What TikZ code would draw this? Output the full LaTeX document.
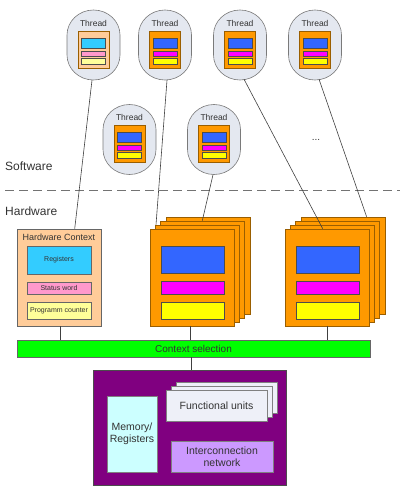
\documentclass[tikz,border=0pt]{standalone}
\usepackage{fontspec}
\setmainfont{Liberation Sans}
\usetikzlibrary{calc}
\definecolor{thfill}{HTML}{E4E8F0}
\definecolor{thdraw}{HTML}{7A7A7A}
\definecolor{peach}{HTML}{FFCC99}
\definecolor{orng}{HTML}{FF9900}
\definecolor{orngdraw}{HTML}{9A5E00}
\definecolor{cyanr}{HTML}{33CCFF}
\definecolor{pinkr}{HTML}{FF99CC}
\definecolor{lyel}{HTML}{FFFF99}
\definecolor{blu}{HTML}{3366FF}
\definecolor{mag}{HTML}{FF00FF}
\definecolor{yel}{HTML}{FFFF00}
\definecolor{grn}{HTML}{00FF00}
\definecolor{purp}{HTML}{800080}
\definecolor{lcyan}{HTML}{CCFFFF}
\definecolor{lav}{HTML}{CC99FF}
\definecolor{fug}{HTML}{EEF0F8}
\definecolor{txt}{HTML}{333333}
\newcommand\ThreadBubble[7]{%
  \node[thread] (#1) at (#2,#3) {};
  \draw[bubble] ($(#1.center)+(-26.5,-10)$) arc[start angle=180, end angle=360, x radius=26.5, y radius=25]
     -- ($(#1.center)+(26.5,10)$) arc[start angle=0, end angle=180, x radius=26.5, y radius=25] -- cycle;
  \node[tlabel] (#1lab) at ($(#1.center)+(0,-22)$) {Thread};
  \node[tbox, fill=#4] (#1box) at ($(#1.center)+(0,4.5)$) {};
  \node[tin, fill=#5, minimum height=10pt] (#1reg) at ($(#1.center)+(0,-2)$) {};
  \node[tin, fill=#6, minimum height=5pt] (#1st) at ($(#1.center)+(0,8.5)$) {};
  \node[tin, fill=#7, minimum height=6pt] (#1pc) at ($(#1.center)+(0,16)$) {};
}
\newcommand\CtxStack[3]{% name, cx, cy
  \foreach \k in {3,2,1}{
    \node[ctxbox] (#1b\k) at ($(#2,#3)+(5.3*\k,-4*\k)$) {};
  }
  \node[ctxbox] (#1) at (#2,#3) {};
  \node[inbox, fill=blu, minimum height=27pt] (#1reg) at ($(#1.center)+(0.5,-18)$) {};
  \node[inbox, fill=mag, minimum height=13pt] (#1st) at ($(#1.center)+(0.5,10)$) {};
  \node[inbox, fill=yel, minimum height=17pt] (#1pc) at ($(#1.center)+(0.5,33)$) {};
}
\begin{document}
\begin{tikzpicture}[x=1pt,y=-1pt,
  thread/.style={minimum width=53pt, minimum height=70pt, inner sep=0pt},
  bubble/.style={draw=thdraw, fill=thfill, line width=0.6pt},
  tlabel/.style={font=\fontsize{8.5}{9}\selectfont, text=txt, inner sep=0pt},
  tbox/.style={draw=orngdraw, line width=0.6pt, minimum width=31pt, minimum height=37pt, inner sep=0pt},
  tin/.style={draw=black!70, line width=0.5pt, minimum width=24pt, inner sep=0pt},
  ctxbox/.style={draw=orngdraw, fill=orng, line width=0.6pt, minimum width=84pt, minimum height=97pt, inner sep=0pt},
  inbox/.style={draw=black!70, line width=0.6pt, minimum width=63pt, inner sep=0pt},
  hwin/.style={draw=black!60, line width=0.6pt, minimum width=64pt, inner sep=0pt, font=\fontsize{7}{8}\selectfont, text=black!80},
  wire/.style={draw=black!75, line width=0.6pt},
  big/.style={font=\fontsize{10.5}{12.5}\selectfont, text=txt, inner sep=0pt, align=center}
]
\useasboundingbox (0,0) rectangle (402,489);

% threads
\ThreadBubble{t1}{93.5}{45}{peach}{cyanr}{pinkr}{lyel}
\ThreadBubble{t2}{165}{45}{orng}{blu}{mag}{yel}
\ThreadBubble{t3}{240}{45}{orng}{blu}{mag}{yel}
\ThreadBubble{t4}{315}{45}{orng}{blu}{mag}{yel}
\ThreadBubble{t5}{129.5}{139.5}{orng}{blu}{mag}{yel}
\ThreadBubble{t6}{214}{139.5}{orng}{blu}{mag}{yel}
\node[font=\fontsize{10}{12}\selectfont, text=txt] (dots) at (316,140) {...};

% software / hardware divide
\coordinate (divL) at (5,190);
\coordinate (divR) at (400,190);
\draw[draw=black!55, line width=0.7pt, dash pattern=on 9pt off 5pt] (divL) -- (divR);
\node[font=\fontsize{12}{14}\selectfont, text=txt, anchor=west, inner sep=0pt] (sw) at (5,166) {Software};
\node[font=\fontsize{12}{14}\selectfont, text=txt, anchor=west, inner sep=0pt] (hwl) at (5,211) {Hardware};

% hardware context
\node[draw=black!60, fill=peach, line width=0.6pt, minimum width=84pt, minimum height=97pt, inner sep=0pt] (hw) at (59,277.5) {};
\node[font=\fontsize{9}{10}\selectfont, text=txt, inner sep=0pt] (hwt) at (59,237) {Hardware Context};
\node[hwin, fill=cyanr, minimum height=28pt] (hwreg) at (59,260) {Registers};
\node[hwin, fill=pinkr, minimum height=12pt] (hwst) at (59,288) {Status word};
\node[hwin, fill=lyel, minimum height=17pt] (hwpc) at (59,310.5) {Programm counter};

% stacks
\CtxStack{s1}{192}{277.5}
\CtxStack{s2}{327}{277.5}

% context selection
\node[draw=black!60, fill=grn, line width=0.6pt, minimum width=353pt, minimum height=17pt, inner sep=0pt, font=\fontsize{10}{12}\selectfont, text=txt] (bar) at (193.5,348.5) {Context selection};

% execution core
\node[draw=black!70, fill=purp, line width=0.6pt, minimum width=193pt, minimum height=115pt, inner sep=0pt] (core) at (189.5,427.5) {};
\node[draw=black!50, fill=lcyan, line width=0.5pt, minimum width=50pt, minimum height=76pt, big] (mem) at (132,434) {Memory/\\Registers};
\node[draw=black!50, fill=fug, line width=0.5pt, minimum width=101pt, minimum height=31pt, inner sep=0pt] (fu2) at (226.5,397.5) {};
\node[draw=black!50, fill=fug, line width=0.5pt, minimum width=101pt, minimum height=31pt, inner sep=0pt] (fu1) at (221.5,401.5) {};
\node[draw=black!50, fill=fug, line width=0.5pt, minimum width=101pt, minimum height=31pt, big] (fu) at (216.5,405.5) {Functional units};
\node[draw=black!50, fill=lav, line width=0.5pt, minimum width=102pt, minimum height=31pt, big] (icn) at (222,456.5) {Interconnection\\network};

% connectors
\draw[wire] ($(t1.south)+(-1.5,0)$) -- ($(hw.north west)+(58,0)$);
\draw[wire] ($(t2.south)+(2,0)$) -- ($(s1b1.north west)+(1,0)$);
\draw[wire] ($(t6.south)+(-1,0)$) -- ($(s1b2.north west)+(42,0)$);
\draw[wire] ($(t3.south)+(4,-1)$) -- ($(s2.north west)+(38,0)$);
\draw[wire] ($(t4.south)+(4,-1)$) -- ($(s2b3.north west)+(66,0)$);
\draw[wire] ($(hw.south west)+(44,0)$) -- ($(bar.north west)+(44,0)$);
\draw[wire] ($(s1.south west)+(41,0)$) -- ($(bar.north west)+(174,0)$);
\draw[wire] ($(s2.south west)+(43,0)$) -- ($(bar.north west)+(311,0)$);
\draw[wire] ($(bar.south west)+(175,0)$) -- ($(core.north west)+(99,0)$);
\end{tikzpicture}
\end{document}
